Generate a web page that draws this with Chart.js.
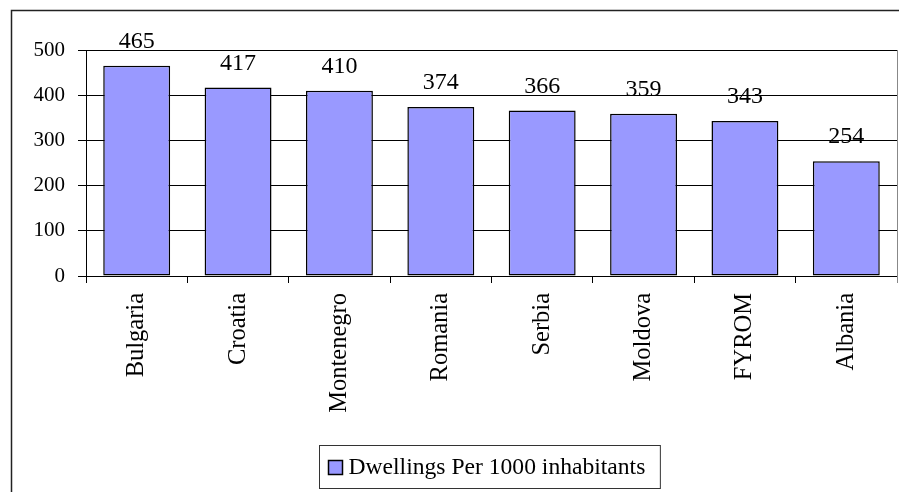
<!DOCTYPE html>
<html>
<head>
<meta charset="utf-8">
<style>
  html, body { margin: 0; padding: 0; background: #fff; }
  #wrap { width: 899px; height: 492px; }
</style>
<script src="https://cdn.jsdelivr.net/npm/chart.js@4.4.1/dist/chart.umd.min.js"></script>
</head>
<body>
<div id="wrap"><canvas id="chart" width="899" height="492"></canvas></div>
<script>
const countries = ["Bulgaria", "Croatia", "Montenegro", "Romania", "Serbia", "Moldova", "FYROM", "Albania"];
const dwellings = [465, 417, 410, 374, 366, 359, 343, 254];
const yTicks = [0, 100, 200, 300, 400, 500];
const seriesLabel = "Dwellings Per 1000 inhabitants";

const FONT = "'Liberation Serif', 'Times New Roman', serif";

// outer frame, right plot edge, value labels and the boxed legend
const extras = {
  id: "extras",
  beforeDraw(chart) {
    const ctx = chart.ctx;
    ctx.save();
    ctx.fillStyle = "#fff";
    ctx.fillRect(0, 0, chart.width, chart.height);
    ctx.strokeStyle = "#222";
    ctx.lineWidth = 1.5;
    ctx.strokeRect(11.5, 10.5, chart.width + 10, chart.height + 10);
    ctx.restore();
  },
  afterDraw(chart) {
    const ctx = chart.ctx;
    const area = chart.chartArea;
    ctx.save();
    ctx.strokeStyle = "#888";
    ctx.lineWidth = 1;
    ctx.beginPath();
    ctx.moveTo(area.right + 0.5, area.top);
    ctx.lineTo(area.right + 0.5, area.bottom + 7);
    ctx.stroke();

    ctx.font = "24px " + FONT;
    ctx.fillStyle = "#000";
    ctx.textAlign = "center";
    ctx.textBaseline = "alphabetic";
    const meta = chart.getDatasetMeta(0);
    meta.data.forEach((bar, i) => {
      ctx.fillText(String(dwellings[i]), bar.x, bar.y - 18);
    });

    // legend
    const ds = chart.data.datasets[0];
    ctx.font = "23.6px " + FONT;
    const tw = ctx.measureText(seriesLabel).width;
    const sw = 14, gap = 6, padX = 9;
    const boxW = padX + sw + gap + tw + padX + 6;
    const boxH = 43;
    const cx = (area.left + area.right) / 2;
    const bx = Math.round(cx - boxW / 2) - 1.5;
    const by = 445.5;
    ctx.strokeStyle = "#333";
    ctx.lineWidth = 1;
    ctx.strokeRect(bx, by, boxW, boxH);
    ctx.fillStyle = ds.backgroundColor;
    ctx.fillRect(bx + padX, by + 15, sw, sw);
    ctx.strokeStyle = "#000";
    ctx.lineWidth = 1.5;
    ctx.strokeRect(bx + padX, by + 15, sw, sw);
    ctx.fillStyle = "#000";
    ctx.textAlign = "left";
    ctx.textBaseline = "middle";
    ctx.fillText(seriesLabel, bx + padX + sw + gap, by + boxH / 2 + 1);
    ctx.restore();
  }
};

new Chart(document.getElementById("chart"), {
  type: "bar",
  data: {
    labels: countries,
    datasets: [{
      label: seriesLabel,
      data: dwellings,
      backgroundColor: "#9999FF",
      borderColor: "#000",
      borderWidth: 1.5,
      borderSkipped: false,
      categoryPercentage: 1.0,
      barPercentage: 0.66
    }]
  },
  options: {
    responsive: false,
    animation: false,
    layout: { padding: { top: 50, right: 2, left: 0, bottom: 0 } },
    plugins: {
      legend: { display: false },
      tooltip: { enabled: false }
    },
    scales: {
      x: {
        grid: {
          offset: true,
          drawOnChartArea: false,
          color: "#000",
          tickLength: 7
        },
        border: { color: "#000", width: 1 },
        ticks: {
          color: "#000",
          font: { family: FONT, size: 24.5 },
          maxRotation: 90,
          minRotation: 90,
          padding: 10,
          autoSkip: false
        },
        afterFit(scale) { scale.height = 216; }
      },
      y: {
        min: 0,
        max: 500,
        afterBuildTicks(scale) { scale.ticks = yTicks.map(v => ({ value: v })); },
        grid: { color: "#000", tickLength: 8 },
        border: { color: "#000", width: 1 },
        ticks: {
          color: "#000",
          font: { family: FONT, size: 21 },
          padding: 13
        },
        afterFit(scale) { scale.width = 86; }
      }
    }
  },
  plugins: [extras]
});
</script>
</body>
</html>
